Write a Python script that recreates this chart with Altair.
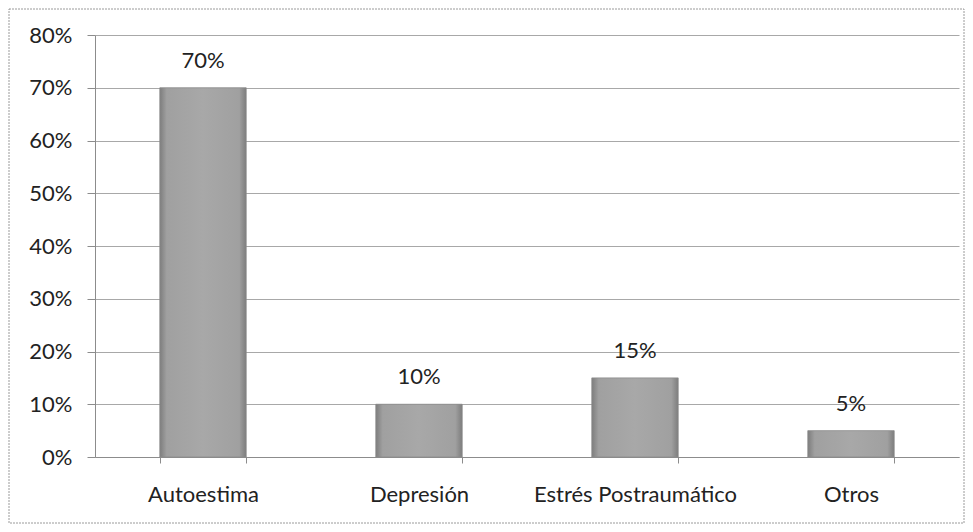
import altair as alt
import pandas as pd

categories = ["Autoestima", "Depresión", "Estrés Postraumático", "Otros"]
values = [0.70, 0.10, 0.15, 0.05]
labels = ["70%", "10%", "15%", "5%"]

df = pd.DataFrame({"cat": categories, "val": values, "lab": labels})

W, H = 864, 422
PL, PT, PR, PB = 87, 27, 6, 67
FONT = "Lato"

base = alt.Chart(df)

bars = base.mark_bar(
    color=alt.Gradient(
        gradient="linear", x1=0, x2=1, y1=0, y2=0,
        stops=[
            alt.GradientStop(color="#7d7d7d", offset=0),
            alt.GradientStop(color="#a0a0a0", offset=0.08),
            alt.GradientStop(color="#a8a8a8", offset=0.5),
            alt.GradientStop(color="#a0a0a0", offset=0.92),
            alt.GradientStop(color="#7d7d7d", offset=1),
        ],
    ),
    stroke="#8a8a8a",
    strokeWidth=0.8,
).encode(
    x=alt.X(
        "cat:N",
        sort=categories,
        title=None,
        scale=alt.Scale(paddingInner=0.6, paddingOuter=0.3),
        axis=alt.Axis(
            labelAngle=0,
            labelFont=FONT,
            labelFontSize=22,
            labelColor="#222222",
            labelPadding=21,
            labelLimit=400,
            tickBand="extent",
            tickSize=6,
            tickColor="#8c8c8c",
            domainColor="#8c8c8c",
            grid=False,
        ),
    ),
    y=alt.Y(
        "val:Q",
        title=None,
        scale=alt.Scale(domain=[0, 0.8]),
        axis=alt.Axis(
            format=".0%",
            values=[0, 0.1, 0.2, 0.3, 0.4, 0.5, 0.6, 0.7, 0.8],
            labelFont=FONT,
            labelFontSize=22,
            labelColor="#222222",
            labelPadding=15,
            tickSize=8,
            tickColor="#8c8c8c",
            domainColor="#8c8c8c",
            gridColor="#a8a8a8",
            gridWidth=1,
        ),
    ),
)

text = base.mark_text(
    font=FONT, fontSize=22, color="#222222", baseline="bottom", dy=-15
).encode(
    x=alt.X("cat:N", sort=categories),
    y="val:Q",
    text="lab:N",
)

border = alt.Chart(pd.DataFrame({"a": [0]})).mark_rect(
    fillOpacity=0, stroke="#9a9a9a", strokeWidth=1, strokeDash=[2, 1]
).encode(
    x=alt.value(-86),
    x2=alt.value(W + PR - 1),
    y=alt.value(-PT + 1),
    y2=alt.value(H + PB - 1),
)

chart = (
    alt.layer(bars, text, border)
    .properties(
        width=W,
        height=H,
        padding={"left": PL, "top": PT, "right": PR, "bottom": PB},
        autosize=alt.AutoSizeParams(type="none"),
        background="white",
    )
    .configure_view(strokeWidth=0)
)

chart.save("out.html", embed_options={"renderer": "svg", "actions": False})
